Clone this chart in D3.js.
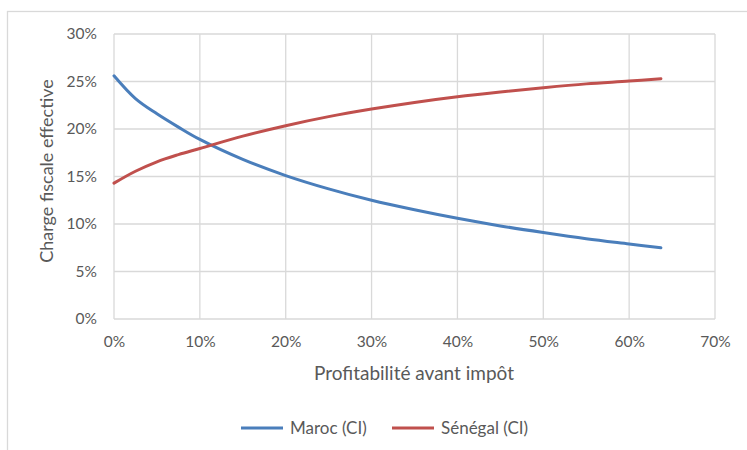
<!DOCTYPE html>
<html>
<head>
<meta charset="utf-8">
<script src="https://cdn.jsdelivr.net/npm/d3@7"></script>
<style>
  body { margin: 0; background: #fff; }
  text { font-family: Lato, "Open Sans", sans-serif; fill: #595959; }
</style>
</head>
<body>
<div class="canvas"></div>
<script>
// data
const profit = [0, 2.5, 5, 7.5, 10, 15, 20, 25, 30, 35, 40, 45, 50, 55, 60, 63.7];
const maroc = [25.6, 23.2, 21.6, 20.2, 18.9, 16.8, 15.1, 13.7, 12.5, 11.5, 10.6, 9.8, 9.1, 8.45, 7.9, 7.5];
const senegal = [14.3, 15.55, 16.55, 17.3, 17.95, 19.25, 20.35, 21.3, 22.1, 22.8, 23.4, 23.9, 24.35, 24.75, 25.05, 25.3];
const seriesNames = ['Maroc (CI)', 'Sénégal (CI)'];
const xTicks = [0, 10, 20, 30, 40, 50, 60, 70];
const yTicks = [0, 5, 10, 15, 20, 25, 30];

const colors = ['#4a7ebb', '#c0504d'];

const svg = d3.select('.canvas')
  .append('svg')
    .attr('width', 747)
    .attr('height', 450);

// chart frame (runs off the picture on right/bottom)
svg.append('rect')
  .attr('x', 7.5).attr('y', 11.5)
  .attr('width', 800).attr('height', 500)
  .attr('fill', 'none')
  .attr('stroke', '#d9d9d9')
  .attr('stroke-width', 1.3);

const x = d3.scaleLinear().domain([0, 70]).range([114, 715]);
const y = d3.scaleLinear().domain([0, 30]).range([319, 34]);

// gridlines
svg.append('g').selectAll('line')
  .data(yTicks)
  .enter().append('line')
    .attr('x1', x(0)).attr('x2', x(70))
    .attr('y1', d => y(d)).attr('y2', d => y(d))
    .attr('stroke', '#d9d9d9')
    .attr('stroke-width', 1.3);

svg.append('g').selectAll('line')
  .data(xTicks)
  .enter().append('line')
    .attr('x1', d => x(d)).attr('x2', d => x(d))
    .attr('y1', y(0)).attr('y2', y(30))
    .attr('stroke', '#d9d9d9')
    .attr('stroke-width', 1.3);

// axes (labels only)
const xAxis = d3.axisBottom(x).tickValues(xTicks).tickSize(0).tickPadding(17)
  .tickFormat(d => d + '%');
const yAxis = d3.axisLeft(y).tickValues(yTicks).tickSize(0).tickPadding(17)
  .tickFormat(d => d + '%');

const xAxisGroup = svg.append('g')
  .attr('transform', `translate(0, ${y(0)})`)
  .call(xAxis);
const yAxisGroup = svg.append('g')
  .attr('transform', `translate(${x(0)}, 0)`)
  .call(yAxis);

[xAxisGroup, yAxisGroup].forEach(g => {
  g.select('.domain').remove();
  g.selectAll('text')
    .attr('fill', '#595959')
    .style('font-size', '15.5px')
    .style('font-family', 'Lato, sans-serif');
});

// axis titles
svg.append('text')
  .attr('x', 414).attr('y', 380)
  .attr('text-anchor', 'middle')
  .style('font-size', '19px')
  .text('Profitabilité avant impôt');

svg.append('text')
  .attr('transform', 'translate(53, 171) rotate(-90)')
  .attr('text-anchor', 'middle')
  .style('font-size', '18px')
  .text('Charge fiscale effective');

// lines
const line = d3.line()
  .x((d, i) => x(profit[i]))
  .y(d => y(d))
  .curve(d3.curveCatmullRom.alpha(0.5));

[maroc, senegal].forEach((vals, i) => {
  svg.append('path')
    .attr('d', line(vals))
    .attr('fill', 'none')
    .attr('stroke', colors[i])
    .attr('stroke-width', 3)
    .attr('stroke-linecap', 'round');
});

// legend
const legendX = [241, 392];
seriesNames.forEach((name, i) => {
  svg.append('line')
    .attr('x1', legendX[i]).attr('x2', legendX[i] + 42)
    .attr('y1', 428).attr('y2', 428)
    .attr('stroke', colors[i])
    .attr('stroke-width', 3);
  svg.append('text')
    .attr('x', legendX[i] + 49).attr('y', 434)
    .style('font-size', '17px')
    .text(name);
});
</script>
</body>
</html>
